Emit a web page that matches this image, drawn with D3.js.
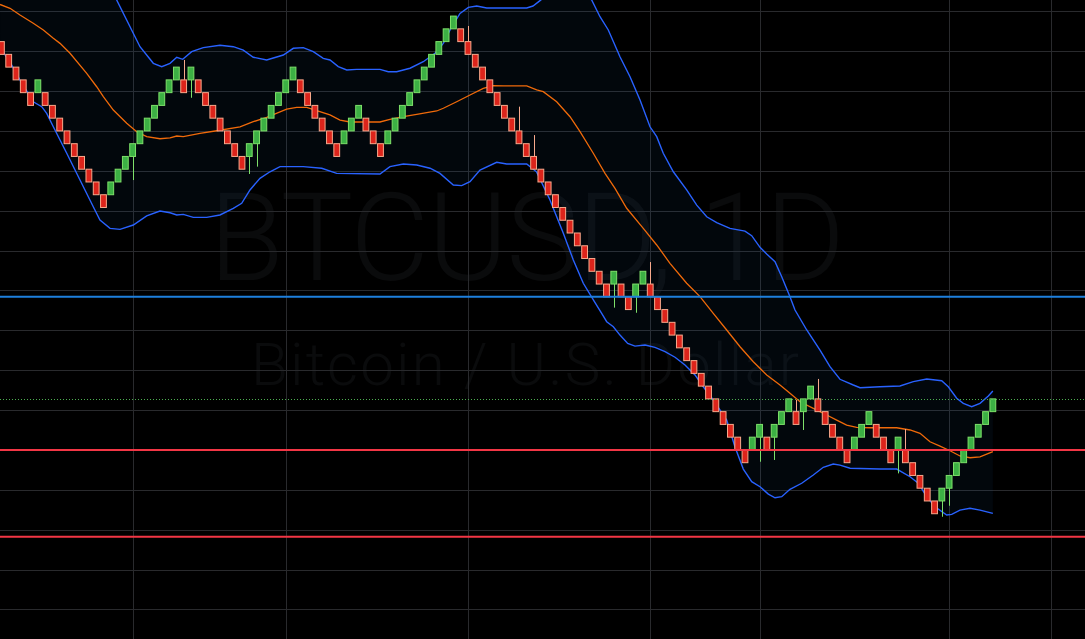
<!DOCTYPE html>
<html><head><meta charset="utf-8">
<script src="https://cdn.jsdelivr.net/npm/d3@7"></script>
<style>html,body{margin:0;padding:0;background:#000;overflow:hidden}svg{display:block}</style>
</head><body><svg id="chart" width="1085" height="639"></svg>
<script>
// ---------- data ----------
const symbolTitle = "BTCUSD, 1D";
const symbolName = "Bitcoin / U.S. Dollar";

// renko bricks (box 800), index 1..137
const brickOpen = [45600,44800,44000,43200,42400,42400,42400,41600,40800,40000,39200,38400,37600,36800,36000,36000,36800,37600,38400,39200,40000,40800,41600,42400,43200,43200,43200,43200,42400,41600,40800,40000,39200,38400,38400,39200,40000,40800,41600,42400,43200,43200,42400,41600,40800,40000,39200,39200,40000,40800,40800,40000,39200,39200,40000,40800,41600,42400,43200,44000,44800,45600,46400,46400,45600,44800,44000,43200,42400,41600,40800,40000,39200,38400,37600,36800,36000,35200,34400,33600,32800,32000,31200,30400,30400,30400,29600,29600,30400,30400,29600,28800,28000,27200,26400,25600,24800,24000,23200,22400,21600,20800,20000,20000,20800,20800,20800,21600,22400,22400,22400,23200,23200,22400,21600,20800,20000,20000,20800,21600,21600,20800,20000,20000,20000,19200,18400,17600,16800,16800,17600,18400,19200,20000,20800,21600,22400];
const brickClose = [44800,44000,43200,42400,41600,43200,41600,40800,40000,39200,38400,37600,36800,36000,35200,36800,37600,38400,39200,40000,40800,41600,42400,43200,44000,42400,44000,42400,41600,40800,40000,39200,38400,37600,39200,40000,40800,41600,42400,43200,44000,42400,41600,40800,40000,39200,38400,40000,40800,41600,40000,39200,38400,40000,40800,41600,42400,43200,44000,44800,45600,46400,47200,45600,44800,44000,43200,42400,41600,40800,40000,39200,38400,37600,36800,36000,35200,34400,33600,32800,32000,31200,30400,29600,31200,29600,28800,30400,31200,29600,28800,28000,27200,26400,25600,24800,24000,23200,22400,21600,20800,20000,19200,20800,21600,20000,21600,22400,23200,21600,23200,24000,22400,21600,20800,20000,19200,20800,21600,22400,20800,20000,19200,20800,19200,18400,17600,16800,16000,17600,18400,19200,20000,20800,21600,22400,23200];

// wick extremes
const wickBrick = [19,26,27,35,36,65,72,74,85,88,90,105,107,110,111,113,124,125,130,131];
const wickPrice = [36920,44450,42080,37300,37760,46580,41520,39740,28920,28600,31780,19260,19370,23130,21250,24450,18530,21310,15810,16500];

// Bollinger bands [brick index, price]
const bbUpper = [[0.81,50650],[3.55,51340],[5.37,51660],[7.21,51160],[9.04,51530],[10.86,51590],[12.70,51090],[14.52,50530],[15.90,49340],[16.81,48210],[19.09,46120],[20.01,45280],[21.84,44240],[22.99,44030],[24.13,44240],[25.05,44620],[25.87,44490],[27.10,44970],[28.69,45220],[30.98,45370],[32.81,45280],[34.18,45070],[35.55,44620],[37.39,44450],[39.67,44760],[41.04,45180],[42.41,45220],[43.78,44970],[45.15,44550],[46.07,44450],[47.21,44030],[48.37,43820],[49.74,43860],[52.93,43860],[54.07,43710],[55.22,43710],[57.05,43930],[58.87,44340],[60.48,44870],[61.62,45490],[62.77,46530],[63.91,47370],[65.05,47750],[66.20,47830],[67.57,47710],[73.06,47710],[73.92,47830],[74.88,48170],[76.66,48800],[79.00,49310],[80.37,48940],[81.97,48210],[83.11,47160],[84.25,46330],[85.85,44650],[87.23,43400],[88.60,41940],[89.97,40260],[90.89,39640],[91.79,38600],[93.17,37440],[95.00,36300],[96.38,35350],[97.75,34620],[99.12,34250],[100.94,33890],[103.00,33720],[103.92,33430],[105.06,32700],[105.98,32280],[107.12,31800],[108.04,30860],[109.17,29610],[109.86,28770],[111.47,27520],[113.29,26260],[114.66,25220],[116.03,24430],[117.86,24070],[118.78,23900],[121.52,23960],[124.26,24010],[126.09,24280],[127.93,24450],[129.98,24340],[130.89,23960],[132.04,23240],[132.95,22920],[134.10,22710],[135.24,22920],[136.38,23380],[137,23690]];
const bbBasis = [[0.81,47930],[2.18,47690],[3.55,47270],[5.37,46750],[6.75,46330],[8.12,45810],[9.04,45490],[10.41,44870],[12.70,43610],[14.07,42770],[14.98,42150],[16.35,41310],[18.19,40480],[19.56,39950],[20.93,39640],[22.75,39510],[24.13,39570],[25.05,39680],[25.95,39640],[28.24,39850],[30.53,40010],[33.73,40260],[35.55,40580],[37.39,40850],[40.13,41360],[41.51,41480],[42.88,41480],[44.25,41270],[46.07,41000],[47.45,40680],[48.82,40560],[52.93,40560],[54.30,40730],[56.13,40890],[57.97,41040],[60.71,41250],[61.62,41420],[63.45,41830],[65.28,42250],[67.10,42670],[68.47,42840],[69.85,42820],[73.06,42820],[74.43,42570],[75.33,42460],[77.17,41830],[79.00,40890],[80.37,39950],[82.19,38600],[83.80,37340],[85.17,36400],[86.77,35150],[89.05,33890],[90.89,32850],[92.71,31700],[95.00,30450],[96.83,29610],[98.65,28560],[100.49,27520],[102.32,26470],[104.14,25530],[105.98,24700],[107.80,24070],[109.17,23550],[110.55,23020],[112.37,22610],[114.21,22190],[115.58,21870],[116.95,21560],[118.32,21420],[120.15,21390],[123.81,21390],[125.64,21250],[127.01,21040],[128.38,20510],[129.75,20240],[131.12,19950],[132.49,19620],[133.87,19510],[135.24,19570],[137,19890]];
const bbLower = [[0.81,45260],[2.41,44130],[3.55,43190],[5.37,41830],[6.53,41520],[7.21,41100],[8.12,40260],[9.96,38600],[11.78,36920],[13.60,35250],[14.52,34410],[15.90,33890],[17.27,33830],[19.09,34100],[20.93,34670],[22.75,34980],[24.13,34870],[25.05,34730],[25.95,34770],[27.32,34580],[29.16,34580],[30.98,34730],[32.81,35150],[33.96,35460],[35.10,36300],[36.47,37030],[37.84,37440],[39.22,37760],[42.41,37760],[44.94,37660],[46.99,37340],[52.93,37300],[54.30,37760],[56.13,37930],[57.97,37860],[59.79,37660],[61.16,37340],[62.99,36610],[64.14,36570],[65.28,36820],[66.65,37550],[68.94,38030],[70.31,37930],[73.06,37930],[74.43,37420],[76.25,35670],[78.08,33580],[79.45,31910],[80.82,30450],[82.43,29230],[83.34,28560],[84.03,28040],[84.94,27720],[85.85,27200],[86.91,26680],[87.91,26510],[89.28,26580],[90.66,26430],[92.03,26160],[93.40,25810],[94.77,25320],[96.14,24700],[97.28,23960],[98.65,23130],[100.49,21870],[101.63,20180],[102.77,18800],[103.92,18010],[105.06,17690],[106.20,17230],[107.12,17000],[108.04,17070],[109.17,17530],[110.78,17910],[112.37,18430],[113.74,18910],[115.11,19120],[116.03,19050],[117.41,18850],[121.52,18800],[123.81,18800],[125.64,18320],[126.77,17910],[127.93,17070],[129.06,16440],[130.67,15920],[131.36,15960],[132.49,16230],[133.87,16340],[135.24,16230],[137,16020]];

const priceGridValues = [10000,12500,15000,17500,20000,22500,25000,27500,30000,32500,35000,37500,40000,42500,45000,47500];
const timeGridIdx = [19.1,40.1,65.05,90.0,105.1,131.0,145.0];
const hLineBlue = 29600;
const hLinesRed = [20000,14550];
const lastClose = 23200;

// ---------- scales ----------
const W = 1085, H = 639;
const svg = d3.select("#chart");
const x = d3.scaleLinear().domain([1, 137]).range([1.41, 992.85]);
const y = d3.scaleLinear().domain([48208.5, 8146]).range([0, H]);

svg.append("rect").attr("width", W).attr("height", H).attr("fill", "#000");

// watermark
const wm = svg.append("g").attr("fill", "rgba(120,123,134,0.085)").attr("text-anchor", "middle")
  .style("font-family", "Roboto, 'Open Sans', sans-serif").style("font-weight", 300);
wm.append("text").attr("x", 527).attr("y", 280).style("font-size", "122px")
  .attr("textLength", 636).attr("lengthAdjust", "spacing").text(symbolTitle);
wm.append("text").attr("x", 525).attr("y", 385).style("font-size", "60px")
  .attr("textLength", 548).attr("lengthAdjust", "spacing").text(symbolName);

// grid
const grid = svg.append("g").attr("stroke", "#292a2d").attr("stroke-width", 1);
grid.selectAll("line.h").data(priceGridValues).join("line").attr("class", "h")
  .attr("x1", 0).attr("x2", W)
  .attr("y1", d => Math.round(y(d)) + 0.5).attr("y2", d => Math.round(y(d)) + 0.5);
grid.selectAll("line.v").data(timeGridIdx).join("line").attr("class", "v")
  .attr("y1", 0).attr("y2", H)
  .attr("x1", d => Math.round(x(d)) + 0.5).attr("x2", d => Math.round(x(d)) + 0.5);

// band fill
const ln = d3.line().x(d => x(d[0])).y(d => y(d[1]));
const fillPts = bbUpper.concat(bbLower.slice().reverse());
svg.append("path").attr("d", ln(fillPts) + "Z").attr("fill", "rgba(33,120,200,0.06)");

// band lines
svg.append("path").attr("d", ln(bbUpper)).attr("fill", "none").attr("stroke", "#2962ff").attr("stroke-width", 1.4);
svg.append("path").attr("d", ln(bbLower)).attr("fill", "none").attr("stroke", "#2962ff").attr("stroke-width", 1.4);
svg.append("path").attr("d", ln(bbBasis)).attr("fill", "none").attr("stroke", "#f06a0a").attr("stroke-width", 1.3);

// bricks
const bricks = brickOpen.map((o, i) => ({ i: i + 1, o, c: brickClose[i], up: brickClose[i] > o }));
const bw = 5.8;
const upFill = "#3cb044", upStroke = "#7ee06a", dnFill = "#dc241b", dnStroke = "#f8a98c";
// wicks
const wicks = wickBrick.map((b, k) => ({ b: bricks[b - 1], p: wickPrice[k] }));
svg.append("g").selectAll("line").data(wicks).join("line")
  .attr("x1", d => Math.round(x(d.b.i)) + 0.5).attr("x2", d => Math.round(x(d.b.i)) + 0.5)
  .attr("y1", d => y(d.p > Math.max(d.b.o, d.b.c) ? Math.max(d.b.o, d.b.c) : Math.min(d.b.o, d.b.c)))
  .attr("y2", d => y(d.p))
  .attr("stroke", d => d.b.up ? upStroke : dnStroke).attr("stroke-width", 1);
svg.append("g").selectAll("rect").data(bricks).join("rect")
  .attr("x", d => x(d.i) - bw / 2).attr("width", bw)
  .attr("y", d => y(Math.max(d.o, d.c)))
  .attr("height", d => Math.abs(y(d.o) - y(d.c)))
  .attr("fill", d => d.up ? upFill : dnFill)
  .attr("stroke", d => d.up ? upStroke : dnStroke).attr("stroke-width", 1);

// horizontal levels
svg.append("line").attr("x1", 0).attr("x2", W).attr("y1", y(hLineBlue)).attr("y2", y(hLineBlue))
  .attr("stroke", "#1e7fdc").attr("stroke-width", 2);
svg.selectAll("line.red").data(hLinesRed).join("line").attr("class", "red")
  .attr("x1", 0).attr("x2", W).attr("y1", d => y(d)).attr("y2", d => y(d))
  .attr("stroke", "#f23645").attr("stroke-width", 2);
svg.append("line").attr("x1", 0).attr("x2", W).attr("y1", Math.round(y(lastClose)) + 0.5).attr("y2", Math.round(y(lastClose)) + 0.5)
  .attr("stroke", "#4caf50").attr("stroke-width", 1).attr("stroke-dasharray", "1,2");
</script></body></html>
